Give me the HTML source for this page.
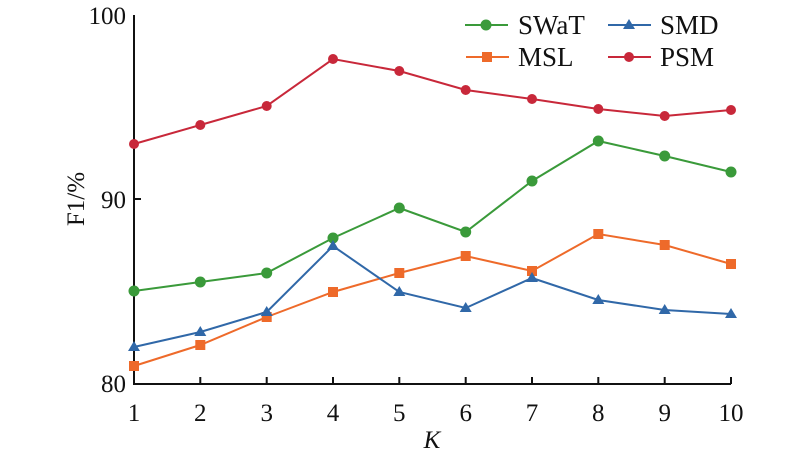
<!DOCTYPE html>
<html><head><style>body{margin:0;background:#fff}svg{display:block}text{font-family:"Liberation Serif",serif;fill:#111}</style></head><body>
<svg width="800" height="458" viewBox="0 0 800 458">
<g stroke="#111" stroke-width="2" fill="none">
<path d="M134,15 V384 H731"/>
<path d="M134,199 h7 M200.3,384 v-7 M266.7,384 v-7 M333,384 v-7 M399.3,384 v-7 M465.7,384 v-7 M532,384 v-7 M598.3,384 v-7 M664.7,384 v-7 M731,384 v-7"/>
</g>
<g font-size="25" text-anchor="end"><text x="126" y="24">100</text><text x="126" y="208">90</text><text x="126" y="392">80</text></g>
<g font-size="25" text-anchor="middle"><text x="134" y="421">1</text><text x="200.3" y="421">2</text><text x="266.7" y="421">3</text><text x="333" y="421">4</text><text x="399.3" y="421">5</text><text x="465.7" y="421">6</text><text x="532" y="421">7</text><text x="598.3" y="421">8</text><text x="664.7" y="421">9</text><text x="731" y="421">10</text>
<text x="432" y="448" font-style="italic">K</text>
<text transform="translate(84,199) rotate(-90)">F1/%</text></g>
<polyline fill="none" stroke="#3a9a3a" stroke-width="2" points="134,291 200.3,282 266.7,273 333,238 399.3,208 465.7,232 532,181 598.3,141 664.7,156 731,172"/>
<g fill="#3a9a3a"><circle cx="134" cy="291" r="5.5"/><circle cx="200.3" cy="282" r="5.5"/><circle cx="266.7" cy="273" r="5.5"/><circle cx="333" cy="238" r="5.5"/><circle cx="399.3" cy="208" r="5.5"/><circle cx="465.7" cy="232" r="5.5"/><circle cx="532" cy="181" r="5.5"/><circle cx="598.3" cy="141" r="5.5"/><circle cx="664.7" cy="156" r="5.5"/><circle cx="731" cy="172" r="5.5"/></g>
<polyline fill="none" stroke="#ee6a2a" stroke-width="2" points="134,366 200.3,345 266.7,317 333,292 399.3,273 465.7,256 532,271 598.3,234 664.7,245 731,264"/>
<g fill="#ee6a2a"><rect x="129" y="361" width="10" height="10"/><rect x="195.3" y="340" width="10" height="10"/><rect x="261.7" y="312" width="10" height="10"/><rect x="328" y="287" width="10" height="10"/><rect x="394.3" y="268" width="10" height="10"/><rect x="460.7" y="251" width="10" height="10"/><rect x="527" y="266" width="10" height="10"/><rect x="593.3" y="229" width="10" height="10"/><rect x="659.7" y="240" width="10" height="10"/><rect x="726" y="259" width="10" height="10"/></g>
<polyline fill="none" stroke="#3068a8" stroke-width="2" points="134,347 200.3,332 266.7,312 333,246 399.3,292 465.7,308 532,278 598.3,300 664.7,310 731,314"/>
<g fill="#3068a8">
<path d="M134,341l6,10h-12z"/><path d="M200.3,326l6,10h-12z"/><path d="M266.7,306l6,10h-12z"/><path d="M333,240l6,10h-12z"/><path d="M399.3,286l6,10h-12z"/><path d="M465.7,302l6,10h-12z"/><path d="M532,272l6,10h-12z"/><path d="M598.3,294l6,10h-12z"/><path d="M664.7,304l6,10h-12z"/><path d="M731,308l6,10h-12z"/></g>
<polyline fill="none" stroke="#c8283a" stroke-width="2" points="134,144 200.3,125 266.7,106 333,59 399.3,71 465.7,90 532,99 598.3,109 664.7,116 731,110"/>
<g fill="#c8283a">
<circle cx="134" cy="144" r="5"/><circle cx="200.3" cy="125" r="5"/><circle cx="266.7" cy="106" r="5"/><circle cx="333" cy="59" r="5"/><circle cx="399.3" cy="71" r="5"/><circle cx="465.7" cy="90" r="5"/><circle cx="532" cy="99" r="5"/><circle cx="598.3" cy="109" r="5"/><circle cx="664.7" cy="116" r="5"/><circle cx="731" cy="110" r="5"/></g>
<g stroke-width="2">
<line x1="465" y1="25" x2="508" y2="25" stroke="#3a9a3a"/><circle cx="486" cy="25" r="5.5" fill="#3a9a3a"/>
<line x1="466" y1="57" x2="509" y2="57" stroke="#ee6a2a"/><rect x="482" y="52" width="10" height="10" fill="#ee6a2a"/>
<line x1="608" y1="25" x2="651" y2="25" stroke="#3068a8"/><path d="M629,19l6,10h-12z" fill="#3068a8"/>
<line x1="608" y1="57" x2="651" y2="57" stroke="#c8283a"/><circle cx="629" cy="57" r="5" fill="#c8283a"/>
</g>
<g font-size="27"><text x="518" y="34">SWaT</text><text x="518" y="66">MSL</text><text x="660" y="34">SMD</text><text x="660" y="66">PSM</text></g>
</svg>
</body></html>
